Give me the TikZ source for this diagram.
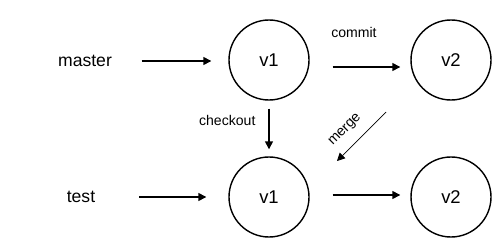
\documentclass[tikz,border=0pt]{standalone}
\usepackage{fontspec}
\setmainfont{Liberation Sans}
\usetikzlibrary{arrows.meta}

\begin{document}
\begin{tikzpicture}[
    ver/.style = {draw, circle, line width = 0.8pt, minimum size = 1.6cm, inner sep = 0pt, font = \fontsize{10.5}{12}\selectfont},
    branch/.style = {font = \fontsize{10}{12}\selectfont},
    lbl/.style = {font = \fontsize{8}{10}\selectfont},
    arr/.style = {-{Triangle[length = 4.5pt, width = 4.5pt]}, line width = 0.8pt},
]%
    \useasboundingbox (0, 0) rectangle (10.08, 5.02);
    % branches
    \node[branch] (master) at (1.70, 3.80) {master};
    \node[branch] (test) at (1.62, 1.08) {test};
    % versions
    \node[ver] (m1) at (5.38, 3.82) {v1};
    \node[ver] (m2) at (9.02, 3.82) {v2};
    \node[ver] (t1) at (5.38, 1.08) {v1};
    \node[ver] (t2) at (9.02, 1.08) {v2};
    % pointers
    \draw[arr, shorten < = 0.47cm, shorten > = 0.34cm] (master.east) -- (master.east -| m1.west);
    \draw[arr, shorten < = 0.76cm, shorten > = 0.44cm] (test.east) -- (test.east -| t1.west);
    % history
    \draw[arr, shorten < = 0.46cm, shorten > = 0.2cm] ([yshift = -0.14cm]m1.east) -- ([yshift = -0.14cm]m2.west)
        node[lbl, pos = 0.44, above = 0.46cm] {commit};
    \draw[arr, shorten < = 0.46cm, shorten > = 0.2cm] ([yshift = 0.04cm]t1.east) -- ([yshift = 0.04cm]t2.west);
    \draw[arr, shorten < = 0.16cm, shorten > = 0.14cm] (m1.south) -- (t1.north)
        node[lbl, pos = 0.35, left = 4pt] {checkout};
    % merge back
    \coordinate (mg1) at (7.72, 2.78);
    \coordinate (mg2) at (6.74, 1.80);
    \draw[arr, line width = 0.4pt] (mg1) -- (mg2)
        node[lbl, pos = 0.6, sloped, above = 2.5pt] {merge};
\end{tikzpicture}
\end{document}
